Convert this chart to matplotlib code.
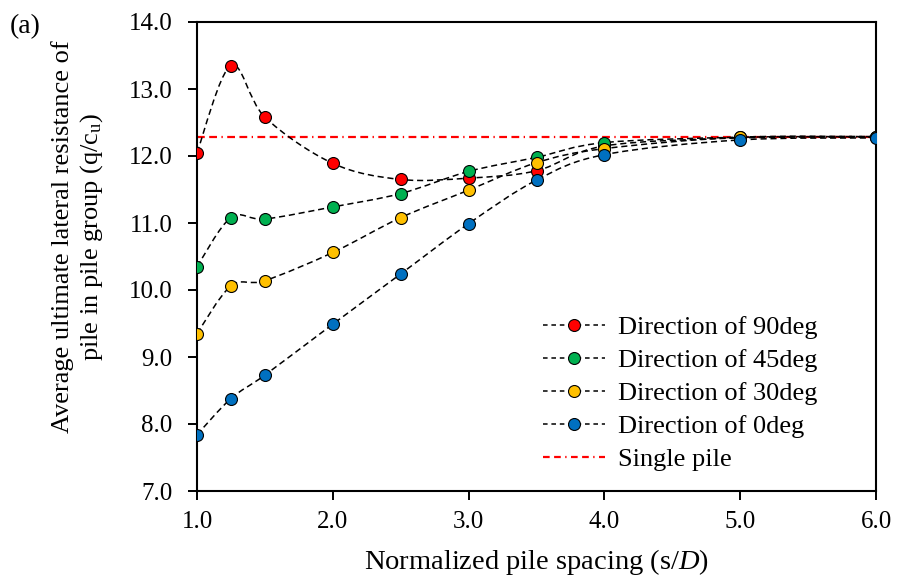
import matplotlib
matplotlib.use('Agg')
import matplotlib.pyplot as plt
from matplotlib.path import Path
from matplotlib.patches import PathPatch
from matplotlib.lines import Line2D
import numpy as np

plt.rcParams['font.family'] = ['Liberation Serif', 'DejaVu Serif']
plt.rcParams['mathtext.fontset'] = 'custom'
plt.rcParams['mathtext.rm'] = 'Liberation Serif'
plt.rcParams['mathtext.it'] = 'Liberation Serif:italic'

# normalized pile spacing s/D
spacing = [1.0, 1.25, 1.5, 2.0, 2.5, 3.0, 3.5, 4.0, 5.0, 6.0]
dir90 = [12.05, 13.35, 12.58, 11.89, 11.65, 11.67, 11.78, 12.15, 12.27, 12.28]
dir45 = [10.35, 11.08, 11.06, 11.24, 11.44, 11.77, 11.98, 12.20, 12.28, 12.29]
dir30 = [9.35, 10.06, 10.14, 10.56, 11.08, 11.49, 11.90, 12.11, 12.28, 12.29]
dir0 = [7.84, 8.38, 8.73, 9.49, 10.24, 10.99, 11.64, 12.02, 12.24, 12.27]
single_pile = 12.28

labels = ['Direction of 90deg', 'Direction of 45deg', 'Direction of 30deg', 'Direction of 0deg']
colors = ['#FF0000', '#00B050', '#FFC000', '#0070C0']


def smooth_path(x, y):
    # Excel-like smoothed line as cubic bezier segments
    p = np.column_stack([x, y])
    n = len(p)
    verts = [p[0]]
    codes = [Path.MOVETO]
    for i in range(n - 1):
        p0 = p[i - 1] if i > 0 else p[i]
        p3 = p[i + 2] if i + 2 < n else p[i + 1]
        c1 = p[i] + (p[i + 1] - p0) / 6.0
        c2 = p[i + 1] - (p3 - p[i]) / 6.0
        verts += [c1, c2, p[i + 1]]
        codes += [Path.CURVE4] * 3
    return Path(verts, codes)


fig = plt.figure(figsize=(8.98, 5.82), dpi=100)
ax = fig.add_axes([197 / 898, 1 - 491 / 582, 679 / 898, 469 / 582])

ax.axhline(single_pile, color='#FF0000', lw=1.6, ls=(0, (3.5, 2, 3.5, 2, 0.6, 2)), zorder=1)

handles = []
for ys, c, lab in zip([dir90, dir45, dir30, dir0], colors, labels):
    patch = PathPatch(smooth_path(spacing, ys), fill=False, ec='black', lw=1.1,
                      ls=(0, (4, 2.5)), zorder=2)
    ax.add_patch(patch)
    ax.plot(spacing, ys, ls='none', marker='o', ms=8.6, mfc=c, mec='black', mew=0.8, zorder=3)
    handles.append(Line2D([], [], color='black', lw=1.1, ls=(0, (3, 2.5)), marker='o',
                          ms=8.6, mfc=c, mec='black', mew=0.8, label=lab))
handles.append(Line2D([], [], color='#FF0000', lw=1.6, ls=(0, (3, 2, 3, 2, 0.6, 2)),
                      label='Single pile'))

ax.set_xlim(1.0, 6.0)
ax.set_ylim(7.0, 14.0)
ax.set_xticks(np.arange(1.0, 6.01, 1.0))
ax.set_yticks(np.arange(7.0, 14.01, 1.0))
ax.xaxis.set_major_formatter(matplotlib.ticker.FormatStrFormatter('%.1f'))
ax.yaxis.set_major_formatter(matplotlib.ticker.FormatStrFormatter('%.1f'))
ax.tick_params(direction='out', length=6.5, width=1.4, labelsize=18, colors='black')
ax.tick_params(axis='y', pad=11)
ax.tick_params(axis='x', pad=8)
for s in ax.spines.values():
    s.set_linewidth(1.5)

ax.set_xlabel('Normalized pile spacing (s/$\\mathit{D}$)', fontsize=20.5, labelpad=10)
fig.text(78 / 898, 1 - 237 / 582,
         'Average ultimate lateral resistance of\npile in pile group (q/c$_{\\mathrm{u}}$)',
         rotation=90, ha='center', va='center', fontsize=19, linespacing=1.2)
fig.text(10 / 898, 1 - 27 / 582, '(a)', ha='left', va='center', fontsize=20)

ax.legend(handles=handles, loc='upper left', bbox_to_anchor=((543 - 197) / 679, (491 - 316) / 469),
          frameon=False, fontsize=19, handlelength=2.35, handletextpad=0.5, labelspacing=0.36,
          borderaxespad=0, borderpad=0)

fig.savefig('out.png', dpi=100)
